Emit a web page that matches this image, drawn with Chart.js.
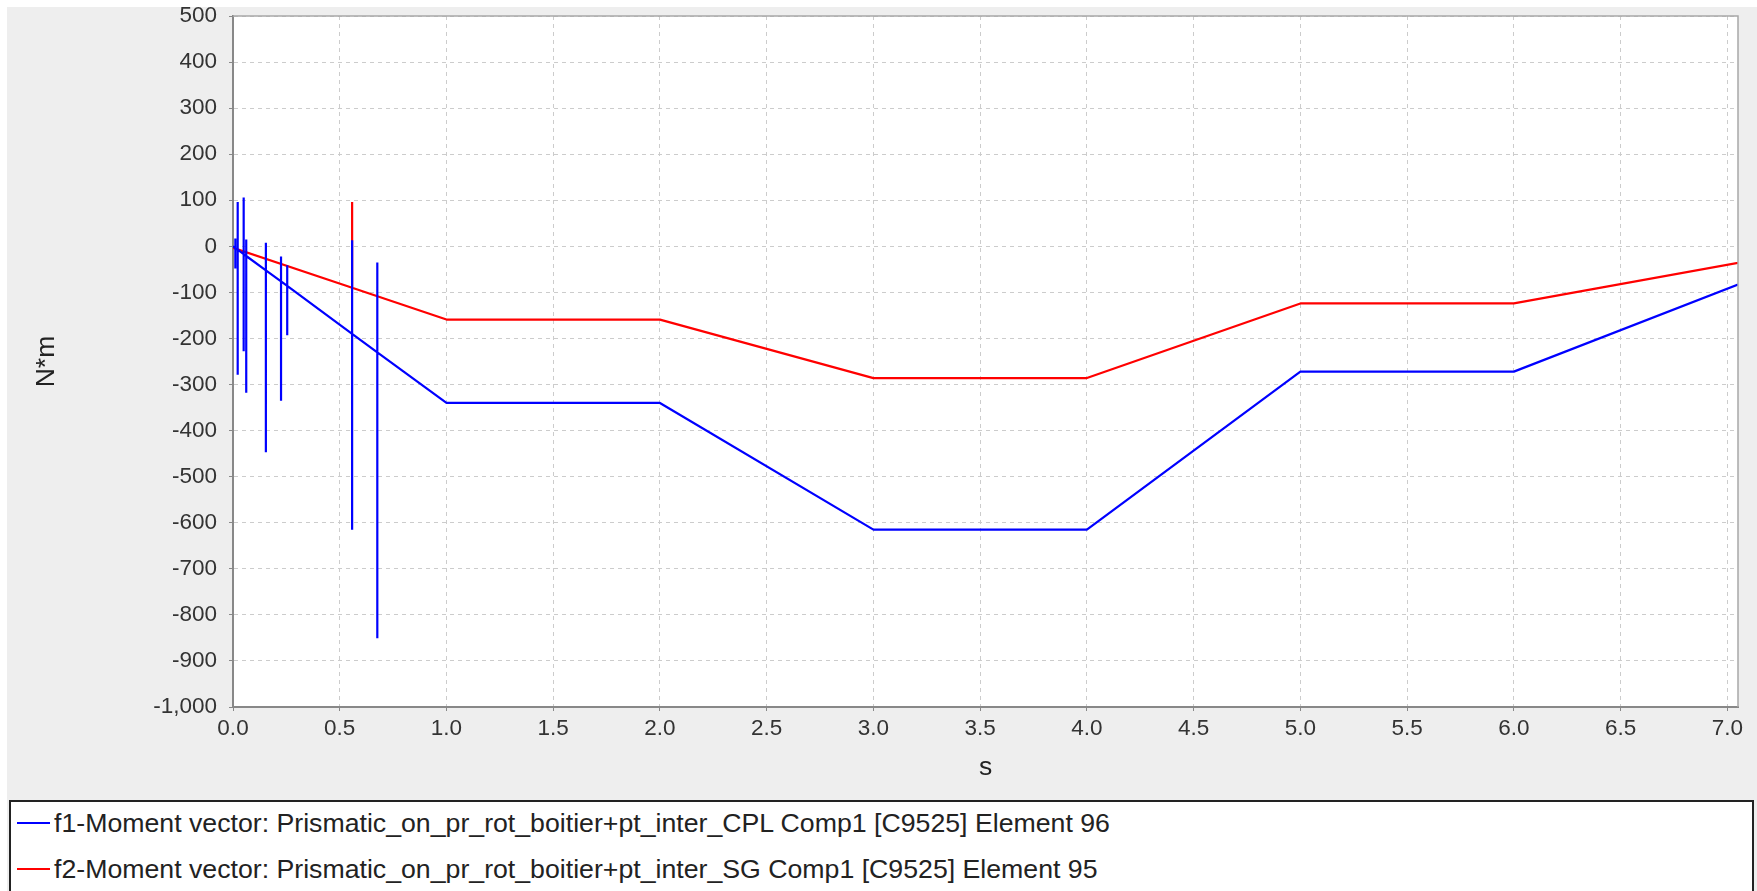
<!DOCTYPE html>
<html>
<head>
<meta charset="utf-8">
<script src="https://cdn.jsdelivr.net/npm/chart.js@4.4.1/dist/chart.umd.min.js"></script>
<style>
  html, body { margin: 0; padding: 0; background: #ffffff; width: 1757px; height: 891px; overflow: hidden; }
  #panel { position: absolute; left: 7px; top: 7px; width: 1750px; height: 884px; background: #eeeeee; }
  #plot { position: absolute; left: 0; top: 0; width: 1750px; height: 793px; }
  #legend { position: absolute; left: 9px; top: 800px; width: 1741px; height: 120px; border: 2px solid #222222;
            background: #ffffff; font-family: "Liberation Sans", Arial, sans-serif; font-size: 26.7px; color: #222222; }
  .row { position: absolute; left: 0; height: 30px; line-height: 30px; white-space: nowrap; }
  .swatch { position: absolute; left: 6px; top: 14px; width: 33px; height: 2px; }
  .label { position: absolute; left: 43px; top: 0; }
</style>
</head>
<body>
<div id="panel"><canvas id="plot" width="1750" height="793"></canvas></div>
<div id="legend"></div>
<script>
// Time axis (s) and moment values (N*m) for each element
const f1Label = "f1-Moment vector: Prismatic_on_pr_rot_boitier+pt_inter_CPL Comp1 [C9525] Element 96";
const f1S  = [0,
  0.011, 0.011, 0.011, 0.011,
  0.022, 0.022, 0.022, 0.022,
  0.050, 0.050, 0.050, 0.050,
  0.062, 0.062, 0.062, 0.062,
  0.154, 0.154, 0.154, 0.154,
  0.225, 0.225, 0.225, 0.225,
  0.254, 0.254, 0.254, 0.254,
  0.558, 0.558, 0.558, 0.558,
  0.676, 0.676, 0.676, 0.676,
  1.0, 2.0, 3.0, 4.0, 5.0, 6.0, 7.05];
const f1Nm = [0,
  -4, 17, -48, -4,
  -7, 96, -279, -7,
  -17, 106, -228, -17,
  -21, 15, -318, -21,
  -52, 8, -447, -52,
  -76, -22, -335, -76,
  -86, -41, -193, -86,
  -190, 13, -615, -190,
  -230, -35, -851, -230,
  -340, -340, -615, -615, -272, -272, -83];

const f2Label = "f2-Moment vector: Prismatic_on_pr_rot_boitier+pt_inter_SG Comp1 [C9525] Element 95";
const f2S  = [0, 0.558, 0.558, 0.558, 1.0, 2.0, 3.0, 4.0, 5.0, 6.0, 7.05];
const f2Nm = [-3, -90, 96, -90, -159, -159, -286, -286, -124, -124, -36];

// Axis ticks
const sTicks  = [0, 0.5, 1.0, 1.5, 2.0, 2.5, 3.0, 3.5, 4.0, 4.5, 5.0, 5.5, 6.0, 6.5, 7.0];
const nmTicks = [-1000, -900, -800, -700, -600, -500, -400, -300, -200, -100, 0, 100, 200, 300, 400, 500];

const toPoints = (xs, ys) => xs.map((x, i) => ({ x: x, y: ys[i] }));

const series = [
  { label: f1Label, color: '#0000ff', data: toPoints(f1S, f1Nm) },
  { label: f2Label, color: '#ff0000', data: toPoints(f2S, f2Nm) }
];

const tickFont = { family: '"Liberation Sans", Arial, sans-serif', size: 22.5 };
const titleFont = { family: '"Liberation Sans", Arial, sans-serif', size: 26.5 };

// White plot background and the light top/right frame
const plotFrame = {
  id: 'plotFrame',
  beforeDraw(chart) {
    const a = chart.chartArea, ctx = chart.ctx;
    ctx.save();
    ctx.fillStyle = '#ffffff';
    ctx.fillRect(a.left, a.top, a.right - a.left, a.bottom - a.top);
    ctx.restore();
  },
  afterDraw(chart) {
    const a = chart.chartArea, ctx = chart.ctx;
    ctx.save();
    ctx.strokeStyle = '#a8a8a8';
    ctx.lineWidth = 1.5;
    ctx.beginPath();
    ctx.moveTo(a.left, a.top);
    ctx.lineTo(a.right, a.top);
    ctx.lineTo(a.right, a.bottom);
    ctx.stroke();
    ctx.restore();
  }
};

new Chart(document.getElementById('plot'), {
  type: 'line',
  data: {
    datasets: series.map(s => ({
      label: s.label,
      data: s.data,
      borderColor: s.color,
      backgroundColor: s.color,
      borderWidth: 2.2,
      borderJoinStyle: 'bevel',
      pointRadius: 0,
      tension: 0,
      fill: false
    }))
  },
  options: {
    responsive: false,
    animation: false,
    events: [],
    layout: { padding: { top: 9, right: 19, left: 0, bottom: 0 } },
    plugins: { legend: { display: false }, tooltip: { enabled: false } },
    scales: {
      x: {
        type: 'linear',
        min: 0,
        max: 7.05,
        afterBuildTicks: sc => { sc.ticks = sTicks.map(v => ({ value: v })); },
        afterFit: sc => { sc.height = 93; sc.paddingLeft = 0; sc.paddingRight = 0; },
        ticks: { font: tickFont, color: '#333333', padding: 4, maxRotation: 0, autoSkip: false,
                 callback: v => Number(v).toFixed(1) },
        grid: { color: '#cccccc', lineWidth: 1, tickLength: 4, tickColor: '#888888', tickBorderDash: [] },
        border: { display: true, color: '#888888', width: 2, dash: [4, 4] },
        title: { display: true, text: 's', font: titleFont, color: '#222222', padding: { top: 0, bottom: 16 } }
      },
      y: {
        type: 'linear',
        min: -1000,
        max: 500,
        afterBuildTicks: sc => { sc.ticks = nmTicks.map(v => ({ value: v })); },
        afterFit: sc => { sc.width = 226; sc.paddingTop = 0; sc.paddingBottom = 0; },
        ticks: { font: tickFont, color: '#333333', padding: 12, autoSkip: false,
                 callback: v => Number(v).toLocaleString('en-US') },
        grid: { color: '#cccccc', lineWidth: 1, tickLength: 4, tickColor: '#888888', tickBorderDash: [] },
        border: { display: true, color: '#888888', width: 2, dash: [4, 4] },
        title: { display: true, text: 'N*m', font: titleFont, color: '#222222', padding: { top: 24, bottom: 0 } }
      }
    }
  },
  plugins: [plotFrame]
});

// Legend box below the plot
const legend = document.getElementById('legend');
const rowCenters = [21, 67];
series.forEach((s, i) => {
  const row = document.createElement('div');
  row.className = 'row';
  row.style.top = (rowCenters[i] - 15) + 'px';
  const sw = document.createElement('div');
  sw.className = 'swatch';
  sw.style.background = s.color;
  const lb = document.createElement('div');
  lb.className = 'label';
  lb.textContent = s.label;
  row.appendChild(sw);
  row.appendChild(lb);
  legend.appendChild(row);
});
</script>
</body>
</html>
